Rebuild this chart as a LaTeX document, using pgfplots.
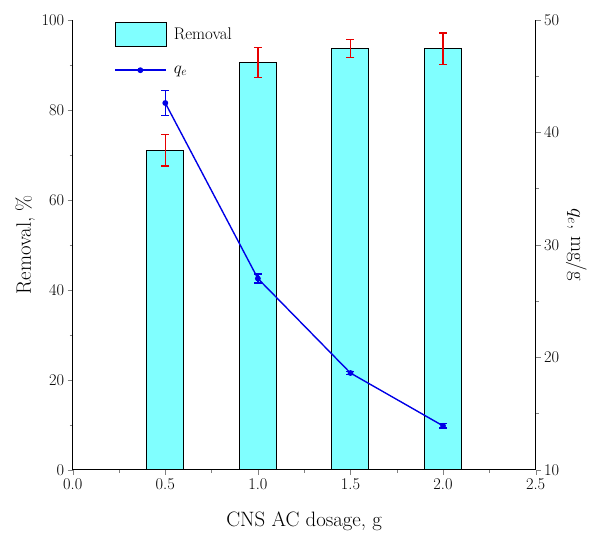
\documentclass[border={12bp 0bp 5bp 11bp}]{standalone}
\usepackage{pgfplots}
\pgfplotsset{compat=1.18}
\definecolor{barcyan}{RGB}{128,255,255}
\definecolor{errred}{RGB}{230,0,0}
\definecolor{lineblue}{RGB}{0,0,230}
\pgfplotsset{
  barleg/.style={legend image code/.code={\draw[##1] (0bp,-12bp) rectangle (51bp,12bp);}},
  lineleg/.style={legend image code/.code={\draw[mark repeat=2, mark phase=2, ##1]
      plot coordinates {(0bp,0bp) (25bp,0bp) (51bp,0bp)};}},
}

\begin{document}
\begin{tikzpicture}
\pgfplotsset{
  every axis/.append style={
    width=465bp, height=452bp, scale only axis,
    xmin=0, xmax=2.5,
    tick align=outside,
    major tick length=5bp, minor tick length=3bp,
    axis line style={line width=1pt},
    /pgf/number format/assume math mode=true,
    tick label style={font=\fontsize{16.5}{18}\selectfont},
    label style={font=\fontsize{21}{24}\selectfont},
  }
}
% bars, left axis
\begin{axis}[
    axis x line*=bottom, axis y line*=left,
    ymin=0, ymax=100,
    xtick={0,0.5,...,2.5}, minor x tick num=1,
    ytick={0,20,...,100}, minor y tick num=1,
    xticklabel style={/pgf/number format/.cd, fixed, fixed zerofill, precision=1},
    xlabel={CNS AC dosage, g},
    ylabel={Removal, \%},
    xlabel style={yshift=-16bp},
]
\addplot[ybar, bar width=0.2, fill=barcyan, draw=black, line width=1pt,
    error bars/.cd, y dir=both, y explicit,
    error bar style={draw=errred, color=errred, line width=1.6pt},
    error mark options={rotate=90, draw=errred, color=errred, mark size=4bp, line width=1.6pt}]
  coordinates {
    (0.5,71.0) +- (0,3.5)
    (1.0,90.5) +- (0,3.3)
    (1.5,93.6) +- (0,2.0)
    (2.0,93.6) +- (0,3.5)
  };
\end{axis}
% q_e, right axis
\begin{axis}[
    axis x line=none, axis y line*=right,
    ymin=10, ymax=50,
    ytick={10,20,...,50}, minor y tick num=1,
    ylabel={$q_e$, mg/g},
    ylabel style={rotate=180},
    legend style={at={(0.084,1)}, anchor=north west, draw=none, fill=none,
      font=\fontsize{17}{19}\selectfont, row sep=17bp, column sep=5bp},
    legend cell align=left,
]
\addlegendimage{fill=barcyan, draw=black, line width=1pt, barleg}
\addlegendentry{Removal}
\addplot[lineblue, line width=1.4pt, mark=*, mark size=2.2bp,
    mark options={fill=lineblue, draw=lineblue}, lineleg,
    error bars/.cd, y dir=both, y explicit,
    error bar style={draw=lineblue, line width=1.4pt},
    error mark options={rotate=90, draw=lineblue, mark size=4bp, line width=1.4pt}]
  coordinates {
    (0.5,42.6) +- (0,1.1)
    (1.0,27.0) +- (0,0.4)
    (1.5,18.6) +- (0,0.15)
    (2.0,13.9) +- (0,0.2)
  };
\addlegendentry{$q_e$}
\end{axis}
\end{tikzpicture}
\end{document}
